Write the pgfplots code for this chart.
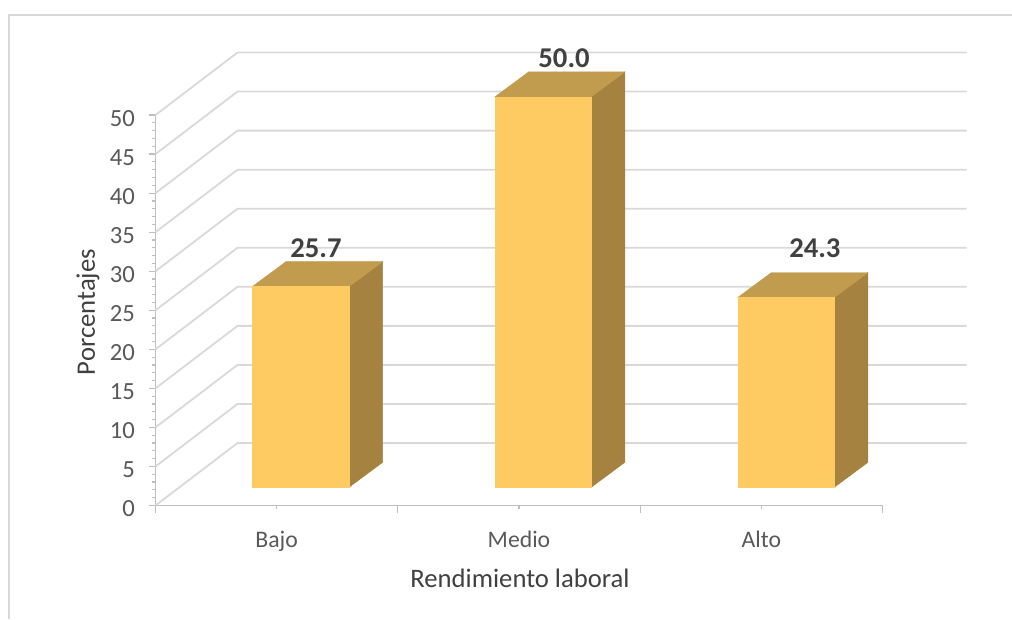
\documentclass[border=0pt]{standalone}
\usepackage{pgfplots}
\pgfplotsset{compat=1.18}
\usepackage{fontspec}
\setmainfont{Carlito}
\definecolor{gridgray}{HTML}{D9D9D9}
\definecolor{axisgray}{HTML}{BFBFBF}
\definecolor{ticktext}{HTML}{595959}
\definecolor{labeltext}{HTML}{404040}
\definecolor{barfront}{HTML}{FECB63}
\definecolor{bartop}{HTML}{C29C4E}
\definecolor{barside}{HTML}{A5823F}
\newlength{\px}
\setlength{\px}{0.75pt}

% Back-wall gridline for one tick value: diagonal across the floor, then along the wall
\newcommand{\wallline}[1]{%
  \pgfmathsetmacro{\wy}{#1+8}%
  \addplot[gridgray, line width=1.8\px, no markers, forget plot]
    coordinates {(0,#1) (0.3384,\wy) (3.3467,\wy)};
}
% Box bar: left edge, right edge, value, label x, label y, label text
\newcommand{\boxbar}[6]{%
  \pgfmathsetmacro{\ytop}{2.33+#3}%
  \pgfmathsetmacro{\ytopb}{2.33+#3+3.2}%
  \pgfmathsetmacro{\xla}{#1+0.139}%
  \pgfmathsetmacro{\xlb}{#2+0.139}%
  \addplot[barside, fill=barside, line width=0.4\px, no markers, forget plot]
    coordinates {(#2,2.33) (\xlb,5.53) (\xlb,\ytopb) (#2,\ytop)} -- cycle;
  \addplot[bartop, fill=bartop, line width=0.4\px, no markers, forget plot]
    coordinates {(#1,\ytop) (\xla,\ytopb) (\xlb,\ytopb) (#2,\ytop)} -- cycle;
  \addplot[barfront, fill=barfront, line width=0.4\px, no markers, forget plot]
    coordinates {(#1,2.33) (#1,\ytop) (#2,\ytop) (#2,2.33)} -- cycle;
  \node[font=\fontsize{21.5}{24}\selectfont\bfseries, text=labeltext, inner sep=0pt]
    at (axis cs:#4,#5) {#6};
}

\begin{document}
\begin{tikzpicture}[x=\px,y=\px]
\useasboundingbox (0,0) rectangle (1012,619);
% Outer chart frame
\draw[gridgray, line width=2\px] (8.5,0) -- (8.5,603.5) -- (1012,603.5);
\begin{axis}[
  at={(155.5\px,113.5\px)}, anchor=south west,
  scale only axis, width=727\px, height=390.5\px,
  xmin=0, xmax=3, ymin=0, ymax=50,
  clip=false,
  axis x line*=bottom, axis y line*=left,
  axis line style={axisgray, line width=1.8\px},
  tick align=outside,
  xtick={0,1,2,3},
  xticklabels={},
  extra x ticks={0.5,1.5,2.5},
  extra x tick labels={Bajo,Medio,Alto},
  extra x tick style={major tick length=3.5\px},
  ytick={0,5,...,50},
  minor y tick num=4,
  major tick length=7\px,
  minor tick length=3.5\px,
  y tick style={axisgray, line width=1.2\px},
  x tick style={axisgray, line width=1.2\px},
  /pgf/number format/assume math mode=true,
  ticklabel style={text=ticktext},
  yticklabel style={font=\fontsize{18.5}{20}\selectfont, yshift=-3.5\px, xshift=-9\px},
  xticklabel style={font=\fontsize{17.8}{20}\selectfont, yshift=-17\px},
  xlabel={Rendimiento laboral},
  ylabel={Porcentajes},
  every axis x label/.style={at={(axis description cs:0.5014,-0.1857)}, anchor=center},
  every axis y label/.style={at={(axis description cs:-0.0928,0.4955)}, anchor=center, rotate=90},
  label style={font=\fontsize{20}{22}\selectfont, text=labeltext},
]
\wallline{0}\wallline{5}\wallline{10}\wallline{15}\wallline{20}\wallline{25}
\wallline{30}\wallline{35}\wallline{40}\wallline{45}\wallline{50}
\boxbar{0.3995}{0.7985}{25.7}{0.662}{32.97}{25.7}
\boxbar{1.401}{1.798}{50.0}{1.686}{57.3}{50.0}
\boxbar{2.4025}{2.801}{24.3}{2.721}{32.97}{24.3}
\end{axis}
\end{tikzpicture}
\end{document}
